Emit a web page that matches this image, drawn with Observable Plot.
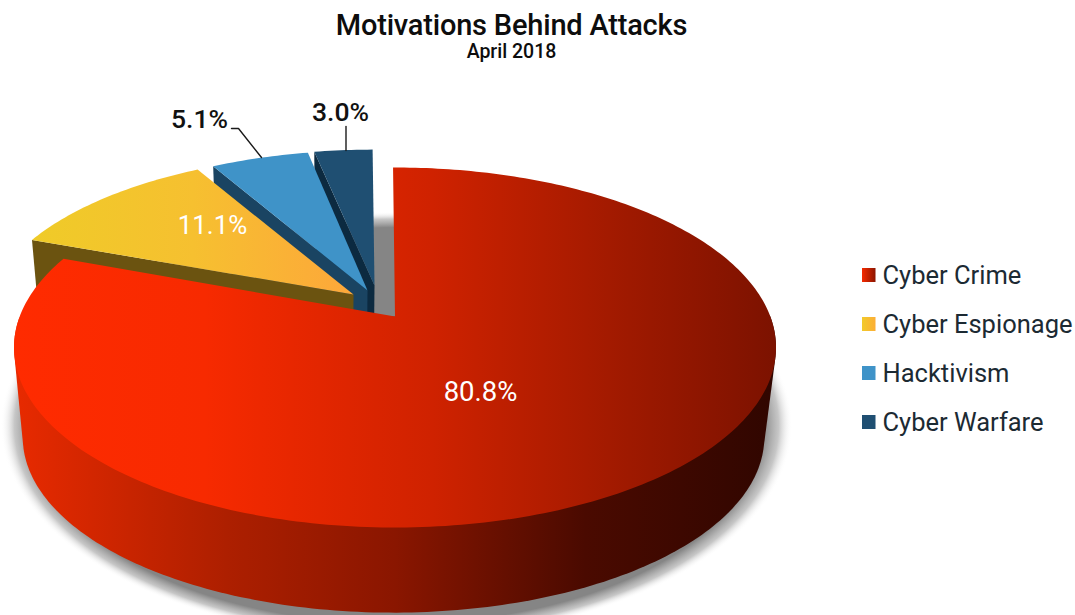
<!DOCTYPE html>
<html>
<head>
<meta charset="utf-8">
<script src="https://cdn.jsdelivr.net/npm/d3@7"></script>
<script src="https://cdn.jsdelivr.net/npm/@observablehq/plot@0.6"></script>
<style>
  html, body { margin: 0; padding: 0; background: #fff; overflow: hidden; }
  #head { width: 1023px; height: 70px; text-align: center; font-family: Roboto, sans-serif; color: #0d0d0d; overflow: hidden; }
  #title { font-size: 29px; font-weight: 500; line-height: 32px; padding-top: 9px; letter-spacing: -0.2px; }
  #subtitle { font-size: 19.5px; font-weight: 500; line-height: 22px; margin-top: 0; }
  svg { display: block; }
</style>
</head>
<body>
<div id="head">
  <div id="title">Motivations Behind Attacks</div>
  <div id="subtitle">April 2018</div>
</div>
<div id="chart"></div>
<script>
const categories = ["Cyber Crime", "Cyber Espionage", "Hacktivism", "Cyber Warfare"];
const shares = [80.8, 11.1, 5.1, 3.0];
const labels = ["80.8%", "11.1%", "5.1%", "3.0%"];
const labelColors = ["#ffffff", "#ffffff", "#111111", "#111111"];

// ---- look of the chart (not data) ----
const W = 1075, H = 615, headH = 70;
const persp = 62 / 360;                       // near side looks larger than far side
const verticalK = 149 * (1 + persp);
const horizontalK = 381 * Math.sqrt(1 - persp * persp);
const turn = -0.35 * Math.PI / 180;
// exploded slices: position of the tip and foreshortening
const placed = [
  {ax: 394.5, ay: 316, sx: 1, sy: 1},
  {ax: 353, ay: 294, sx: 0.97, sy: 0.945},
  {ax: 367, ay: 290, sx: 0.96, sy: 0.94},
  {ax: 374, ay: 285, sx: 0.97, sy: 0.912}
];
const topFill = ["url(#redTop)", "url(#yellowTop)", "#3f93c8", "#1f4f72"];
const wallFill = ["url(#redWall)", "#6b5310", "#1a4462", "#0c2a40"];
const swatchFill = ["url(#redSwatch)", "url(#yellowSwatch)", "#3f93c8", "#1f4f72"];

const arcs = d3.pie().sort(null).value(d => d)(shares);

function rim(angle, p) {
  const X = Math.sin(angle + turn), Y = Math.cos(angle + turn);
  const k = 1 + persp * Y;
  return {x: p.ax + p.sx * horizontalK * X / k, y: p.ay - p.sy * verticalK * Y / k};
}
const tip = p => ({x: p.ax, y: p.ay});
const lower = q => ({x: 393 + (q.x - 394.5) * 0.973, y: 437 + (q.y - 347) * 0.973});

function arcPoints(a0, a1, p) {
  const n = Math.max(2, Math.ceil(Math.abs(a1 - a0) * 180 / Math.PI));
  return d3.range(n + 1).map(i => rim(a0 + (a1 - a0) * i / n, p));
}
const polygon = (pts, fill) => Plot.line(pts, {x: "x", y: "y", fill, stroke: "none", curve: "linear-closed"});

const pieMarks = [];
// soft ground shadow
const shadowPts = d3.range(0, 360, 2).map(t => ({
  x: 396 + 396 * Math.cos(t * Math.PI / 180),
  y: 425 + 214 * Math.sin(t * Math.PI / 180)
}));
pieMarks.push(polygon(shadowPts, "url(#shadow)"));

// back to front
[3, 2, 1].forEach(i => {
  const p = placed[i], a = arcs[i];
  const corner = rim(a.startAngle, p), t = tip(p);
  pieMarks.push(polygon([corner, t, lower(t), lower(corner)], wallFill[i]));
  pieMarks.push(polygon([t, ...arcPoints(a.startAngle, a.endAngle, p)], topFill[i]));
});
{
  const p = placed[0], a = arcs[0];
  const front = arcPoints(Math.PI / 2, 3 * Math.PI / 2, p);
  const hull = d3.polygonHull([...front, ...front.map(lower)].map(q => [q.x, q.y])).map(([x, y]) => ({x, y}));
  pieMarks.push(polygon(hull, wallFill[0]));
  pieMarks.push(polygon([tip(p), ...arcPoints(a.startAngle, a.endAngle, p)], topFill[0]));
}

const gradients = () => {
  const defs = d3.create("svg:defs");
  const linear = (id, stops) => {
    const g = defs.append("linearGradient").attr("id", id).attr("x1", 0).attr("x2", 1).attr("y1", 0).attr("y2", 0);
    stops.forEach(([o, c]) => g.append("stop").attr("offset", o).attr("stop-color", c));
  };
  linear("redTop", [[0, "#ff2b00"], [0.25, "#f72a00"], [0.55, "#cf2200"], [0.78, "#a31a00"], [1, "#7c1200"]]);
  linear("redWall", [[0, "#e82a00"], [0.28, "#ad1f00"], [0.5, "#8a1600"], [0.75, "#4a0a00"], [1, "#300600"]]);
  linear("yellowTop", [[0, "#efcb28"], [0.5, "#f6c030"], [1, "#fda73a"]]);
  linear("redSwatch", [[0, "#f52a00"], [1, "#8c1500"]]);
  linear("yellowSwatch", [[0, "#f2ca2a"], [1, "#fcae36"]]);
  const r = defs.append("radialGradient").attr("id", "shadow");
  [[0, "#858585", 1], [0.925, "#858585", 1], [0.965, "#a8a8a8", 0.65], [1, "#ffffff", 0]].forEach(([o, c, a]) =>
    r.append("stop").attr("offset", o).attr("stop-color", c).attr("stop-opacity", a));
  return defs.node();
};

// value labels and leader lines
const labelPos = [{x: 480, y: 392}, {x: 212, y: 225}, {x: 199, y: 119}, {x: 340, y: 112}];
const labelSize = [27.5, 26, 26.5, 26.5];
const labelRows = labels.map((t, i) => ({text: t, color: labelColors[i], size: labelSize[i], ...labelPos[i]}));
const leaders = [
  [{x: 231, y: 128}, {x: 238, y: 128}, {x: 261, y: 157}],
  [{x: 345.5, y: 126}, {x: 345.5, y: 150}]
];

// legend
const legendRows = categories.map((name, i) => ({name, i, cy: 275 + 49 * i}));

const chart = Plot.plot({
  width: W,
  height: H - headH,
  margin: 0,
  style: {background: "#fff", overflow: "hidden"},
  x: {domain: [0, W], range: [0, W], axis: null},
  y: {domain: [headH, H], range: [0, H - headH], axis: null},
  marks: [
    gradients,
    ...pieMarks,
    ...leaders.map(l => Plot.line(l, {x: "x", y: "y", stroke: "#1a1a1a", strokeWidth: 1.4, curve: "linear"})),
    ...labelRows.map(r => Plot.text([r], {
      x: "x", y: "y", text: "text", fill: r.color, fontSize: r.size,
      fontWeight: r.color === "#ffffff" ? 400 : 500,
      fontFamily: "Roboto, sans-serif", textAnchor: "middle"
    })),
    ...legendRows.map(r => Plot.rect([r], {
      x1: () => 862, x2: () => 875.5,
      y1: d => d.cy - 7, y2: d => d.cy + 7,
      fill: swatchFill[r.i]
    })),
    Plot.text(legendRows, {x: () => 882, y: "cy", text: "name", fill: "#1c2a33", fontSize: 25.5, fontFamily: "Roboto, sans-serif", textAnchor: "start"})
  ]
});
document.getElementById("chart").appendChild(chart);
</script>
</body>
</html>
